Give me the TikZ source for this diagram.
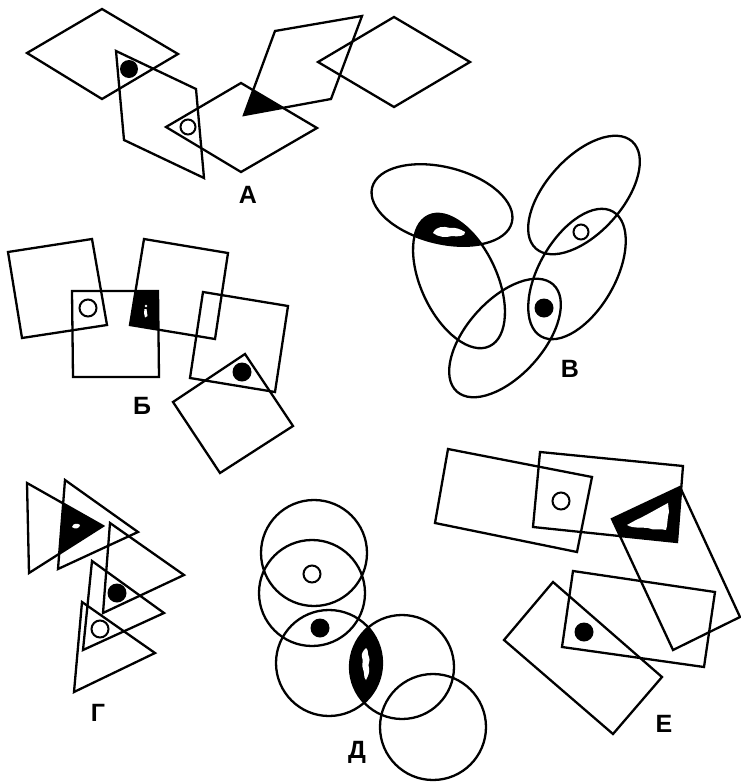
\documentclass[tikz,border=0pt]{standalone}
\usepackage{fontspec}
\setmainfont{Liberation Sans}
\begin{document}
\begin{tikzpicture}[x=1pt,y=-1pt,
  shp/.style={draw=black,line width=2.3pt,line join=miter},
  dotB/.style={fill=black},
  dotW/.style={draw=black,fill=white,line width=2pt},
  lbl/.style={font=\fontsize{25}{25}\selectfont\bfseries,inner sep=0pt}]
\useasboundingbox[fill=white] (0,0) rectangle (741,782);

% ================= Panel A =================
\begin{scope}
  \clip (166,127) -- (241,83) -- (317,128) -- (241,172) -- cycle;
  \fill[black] (275,31) -- (362,16) -- (331,99) -- (244,115) -- cycle;
\end{scope}
\draw[shp] (27,53) -- (102,9) -- (178,54) -- (102,99) -- cycle;
\draw[shp] (116,51) -- (196,89) -- (204,178) -- (124,140) -- cycle;
\draw[shp] (166,127) -- (241,83) -- (317,128) -- (241,172) -- cycle;
\draw[shp] (275,31) -- (362,16) -- (331,99) -- (244,115) -- cycle;
\draw[shp] (318,62) -- (394,17) -- (470,62) -- (394,107) -- cycle;
\fill[dotB] (129,69) circle[radius=9pt];
\draw[dotW] (188,127) circle[radius=7.5pt];
\node[lbl] (labA) at (248,195) {А};

% ================= Panel B (Б) =================
\begin{scope}
  \clip (144,239) -- (228,253) -- (215,339) -- (130,325) -- cycle;
  \fill[black] (72,291) -- (158,291) -- (159,377) -- (73,377) -- cycle;
\end{scope}
\fill[white] (146,306) circle[radius=1.3pt];
\fill[white] (144.5,309) -- (146.5,309) -- (147.5,316) -- (145,317.5) -- (144,313) -- cycle;
\draw[shp] (8,252) -- (92,239) -- (107,325) -- (22,338) -- cycle;
\draw[shp] (72,291) -- (158,291) -- (159,377) -- (73,377) -- cycle;
\draw[shp] (144,239) -- (228,253) -- (215,339) -- (130,325) -- cycle;
\draw[shp] (203,292) -- (288,306) -- (275,392) -- (190,378) -- cycle;
\draw[shp] (245,354) -- (293,426) -- (220,473) -- (173,402) -- cycle;
\draw[dotW] (88,308) circle[radius=8.5pt];
\fill[dotB] (242,372) circle[radius=9.5pt];
\node[lbl] (labB) at (142,406) {Б};

% ================= Panel V (В) =================
\begin{scope}
  \clip[rotate around={-14:(442,205)}] (442,205) ellipse[x radius=72pt,y radius=38pt];
  \fill[black,rotate around={-65:(459,281)}] (459,281) ellipse[x radius=72pt,y radius=38pt];
\end{scope}
\fill[white] (433,233) .. controls (436,226) and (444,226) .. (450,228)
  .. controls (455,227) and (460,229) .. (465,232)
  .. controls (466,236) and (458,237) .. (452,236)
  .. controls (446,238) and (438,237) .. (433,233) -- cycle;
\draw[shp,rotate around={-14:(442,205)}] (442,205) ellipse[x radius=72pt,y radius=38pt];
\draw[shp,rotate around={-65:(459,281)}] (459,281) ellipse[x radius=72pt,y radius=38pt];
\draw[shp,rotate around={48:(505,338)}] (505,338) ellipse[x radius=72pt,y radius=38pt];
\draw[shp,rotate around={48:(584,195)}] (584,195) ellipse[x radius=72pt,y radius=38pt];
\draw[shp,rotate around={60:(577,274)}] (577,274) ellipse[x radius=72pt,y radius=38pt];
\draw[dotW] (581,232) circle[radius=7.5pt];
\fill[dotB] (544,308) circle[radius=9.5pt];
\node[lbl] (labV) at (570,369) {В};

% ================= Panel G (Г) =================
\begin{scope}
  \clip (65,480) -- (138,532) -- (58,569) -- cycle;
  \fill[black] (27,483) -- (103,526) -- (29,573) -- cycle;
\end{scope}
\fill[white] (72,527) .. controls (73,523) and (78,523) .. (80,525)
  .. controls (80,528) and (75,530) .. (72,527) -- cycle;
\draw[shp] (27,483) -- (103,526) -- (29,573) -- cycle;
\draw[shp] (65,480) -- (138,532) -- (58,569) -- cycle;
\draw[shp] (110,523) -- (184,575) -- (103,613) -- cycle;
\draw[shp] (92,561) -- (164,613) -- (83,650) -- cycle;
\draw[shp] (82,602) -- (155,653) -- (74,692) -- cycle;
\fill[dotB] (117,593) circle[radius=9.5pt];
\draw[dotW] (100,629) circle[radius=8.5pt];
\node[lbl] (labG) at (98,713) {Г};

% ================= Panel D (Д) =================
\begin{scope}
  \clip (329,663) circle[radius=53pt];
  \fill[black] (402,667) circle[radius=52pt];
\end{scope}
\fill[white] (366,648) .. controls (369,650) and (367,654) .. (369,657)
  .. controls (371,661) and (367,664) .. (369,668)
  .. controls (370,672) and (368,676) .. (366,680)
  .. controls (363,677) and (365,673) .. (363,669)
  .. controls (361,665) and (364,661) .. (362,657)
  .. controls (361,653) and (364,650) .. (366,648) -- cycle;
\draw[shp] (314,553) circle[radius=53pt];
\draw[shp] (312,593) circle[radius=53pt];
\draw[shp] (329,663) circle[radius=53pt];
\draw[shp] (402,667) circle[radius=52pt];
\draw[shp] (433,727) circle[radius=53pt];
\draw[dotW] (312,574) circle[radius=8.5pt];
\fill[dotB] (320,628) circle[radius=9.5pt];
\node[lbl] (labD) at (357,752) {Д};

% ================= Panel E (Е) =================
\begin{scope}
  \clip (612,519) -- (680,487) -- (740,617) -- (673,650) -- cycle;
  \fill[black] (540,452) -- (683,466) -- (677,542) -- (533,527) -- cycle;
\end{scope}
\fill[white] (627,525) -- (636,520) .. controls (645,516) and (655,510) .. (668,503)
  -- (669,512) .. controls (667,518) and (668,524) .. (666,530)
  .. controls (660,528) and (654,531) .. (648,528)
  .. controls (642,527) and (634,529) .. (627,525) -- cycle;
\draw[shp] (448,449) -- (592,477) -- (577,552) -- (435,523) -- cycle;
\draw[shp] (540,452) -- (683,466) -- (677,542) -- (533,527) -- cycle;
\draw[shp] (612,519) -- (680,487) -- (740,617) -- (673,650) -- cycle;
\draw[shp] (573,571) -- (715,592) -- (704,667) -- (562,647) -- cycle;
\draw[shp] (553,582) -- (662,677) -- (613,734) -- (504,640) -- cycle;
\draw[dotW] (561,501) circle[radius=8.5pt];
\fill[dotB] (584,632) circle[radius=9.5pt];
\node[lbl] (labE) at (664,724) {Е};
\end{tikzpicture}
\end{document}
